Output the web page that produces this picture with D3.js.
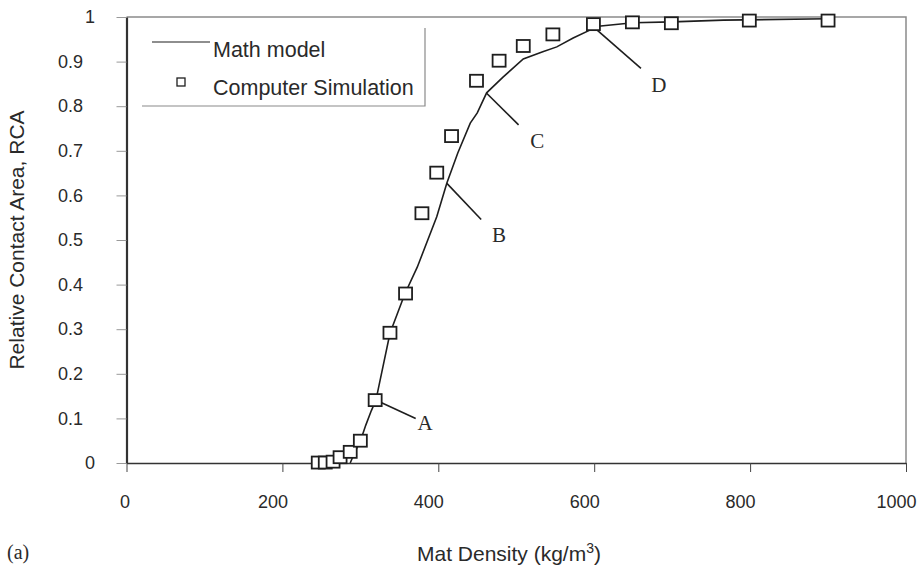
<!DOCTYPE html>
<html>
<head>
<meta charset="utf-8">
<script src="https://cdn.jsdelivr.net/npm/d3@7"></script>
<style>
    body { margin: 0; background: #fff; }
    text { font-family: "Liberation Sans", Arial, sans-serif; fill: #2a2a2a; }
    .serif { font-family: "Liberation Serif", "Times New Roman", serif; }
</style>
</head>
<body>
<svg id="graph1"></svg>
<script>
// Computer simulation points
const simDensity = [246, 255, 265, 274, 287, 300, 319, 338, 358, 379, 398, 417, 449, 478, 509, 547, 599, 649, 699, 799, 900];
const simRCA = [0.001, 0.001, 0.003, 0.013, 0.025, 0.05, 0.141, 0.292, 0.38, 0.56, 0.651, 0.733, 0.857, 0.902, 0.935, 0.961, 0.984, 0.988, 0.986, 0.992, 0.992];

// Math model curve
const modelDensity = [287, 293, 300, 307, 314, 320, 338, 357, 373, 398, 411, 425, 441, 450, 462, 483, 509, 534, 552, 573, 595, 599, 650, 700, 766, 900];
const modelRCA = [0, 0.025, 0.049, 0.085, 0.117, 0.141, 0.291, 0.379, 0.439, 0.552, 0.628, 0.695, 0.762, 0.785, 0.830, 0.865, 0.906, 0.922, 0.933, 0.953, 0.971, 0.978, 0.987, 0.989, 0.993, 0.996];

// Tick labels
const xTicks = [0, 200, 400, 600, 800, 1000];
const yTicks = [0, 0.1, 0.2, 0.3, 0.4, 0.5, 0.6, 0.7, 0.8, 0.9, 1];

// Annotations: point on curve, end of leader, letter position (data units)
const noteLabels = ["A", "B", "C", "D"];
const noteFrom = [[321, 0.140], [411, 0.627], [462, 0.829], [599, 0.978]];
const noteTo = [[371, 0.100], [455, 0.546], [503, 0.758], [660, 0.885]];
const noteText = [[383, 0.090], [478, 0.513], [527, 0.723], [683, 0.849]];

const W = 918, H = 570;
const margin = { top: 17, right: 12, bottom: 107, left: 126.5 },
    width = W - margin.left - margin.right,
    height = H - margin.top - margin.bottom;

const root = d3.select("#graph1")
    .attr("width", W)
    .attr("height", H);

let svg = root.append("g")
    .attr("transform", "translate(" + margin.left + "," + margin.top + ")");

let x = d3.scaleLinear().domain([0, 1000]).range([0, width]);
let y = d3.scaleLinear().domain([0, 1]).range([height, 0]);

// frame (top and right)
svg.append("path")
    .attr("d", "M0,0H" + width + "V" + height)
    .attr("fill", "none")
    .attr("stroke", "#8a8a8a")
    .attr("stroke-width", 1.5);

// X axis
let gx = svg.append("g")
    .attr("transform", "translate(0," + height + ")")
    .call(d3.axisBottom(x).tickValues(xTicks).tickFormat(d3.format("d")).tickSizeInner(9).tickSizeOuter(0));
gx.select(".domain").attr("stroke", "#333").attr("stroke-width", 1.5);
gx.selectAll(".tick line").attr("stroke", "#444");
gx.selectAll("text")
    .attr("font-size", "18px")
    .attr("font-family", null)
    .attr("y", 32)
    .attr("dx", d => d === 0 ? -2 : -10);

// Y axis
let gy = svg.append("g")
    .call(d3.axisLeft(y).tickValues(yTicks).tickFormat(d3.format("~g")).tickSizeInner(10).tickSizeOuter(0));
gy.select(".domain").attr("stroke", "#333").attr("stroke-width", 2.2);
gy.selectAll(".tick line").attr("stroke", "#999");
gy.selectAll("text")
    .attr("font-size", "18px")
    .attr("font-family", null)
    .attr("x", d => (d % 1 === 0) ? -31.5 : -43.5);

// axis titles
root.append("text")
    .attr("transform", "translate(24," + (margin.top + y(0.5)) + ") rotate(-90)")
    .attr("font-size", "21px")
    .style("text-anchor", "middle")
    .text("Relative Contact Area, RCA");

let xt = root.append("text")
    .attr("x", 509)
    .attr("y", 561)
    .attr("font-size", "21px")
    .style("text-anchor", "middle");
xt.append("tspan").text("Mat Density (kg/m");
xt.append("tspan").attr("font-size", "14px").attr("dy", -8).text("3");
xt.append("tspan").attr("dy", 8).text(")");

root.append("text")
    .attr("class", "serif")
    .attr("x", 7)
    .attr("y", 559)
    .attr("font-size", "20px")
    .text("(a)");

// Math model line
const model = modelDensity.map((d, i) => ({ x: d, y: modelRCA[i] }));
svg.append("path")
    .datum(model)
    .attr("fill", "none")
    .attr("stroke", "#1e1e1e")
    .attr("stroke-width", 1.6)
    .attr("d", d3.line().x(d => x(d.x)).y(d => y(d.y)));

// leader lines
svg.selectAll(".leader")
    .data(noteLabels)
    .enter()
    .append("line")
    .attr("class", "leader")
    .attr("x1", (d, i) => x(noteFrom[i][0]))
    .attr("y1", (d, i) => y(noteFrom[i][1]))
    .attr("x2", (d, i) => x(noteTo[i][0]))
    .attr("y2", (d, i) => y(noteTo[i][1]))
    .attr("stroke", "#1e1e1e")
    .attr("stroke-width", 1.6);

// simulation squares
const sim = simDensity.map((d, i) => ({ x: d, y: simRCA[i] }));
svg.selectAll(".sq")
    .data(sim)
    .enter()
    .append("rect")
    .attr("class", "sq")
    .attr("x", d => x(d.x) - 6.5)
    .attr("y", d => y(d.y) - 6)
    .attr("width", 13)
    .attr("height", 12)
    .attr("fill", "#fff")
    .attr("stroke", "#1e1e1e")
    .attr("stroke-width", 1.8);

svg.selectAll(".note")
    .data(noteLabels)
    .enter()
    .append("text")
    .attr("class", "serif note")
    .attr("x", (d, i) => x(noteText[i][0]))
    .attr("y", (d, i) => y(noteText[i][1]))
    .attr("dy", "0.35em")
    .attr("font-size", "21px")
    .style("text-anchor", "middle")
    .text(d => d);

// legend
let lg = root.append("g");
lg.append("path")
    .attr("d", "M142,106H425V28")
    .attr("fill", "none")
    .attr("stroke", "#8a8a8a")
    .attr("stroke-width", 1.2);
lg.append("line")
    .attr("x1", 152).attr("x2", 210)
    .attr("y1", 42).attr("y2", 42)
    .attr("stroke", "#1e1e1e")
    .attr("stroke-width", 1.2);
lg.append("text")
    .attr("x", 213).attr("y", 57)
    .attr("font-size", "21.5px")
    .text("Math model");
lg.append("rect")
    .attr("x", 177).attr("y", 78)
    .attr("width", 8).attr("height", 8)
    .attr("fill", "#fff")
    .attr("stroke", "#1e1e1e")
    .attr("stroke-width", 1.3);
lg.append("text")
    .attr("x", 213).attr("y", 95)
    .attr("font-size", "21.5px")
    .text("Computer Simulation");
</script>
</body>
</html>
